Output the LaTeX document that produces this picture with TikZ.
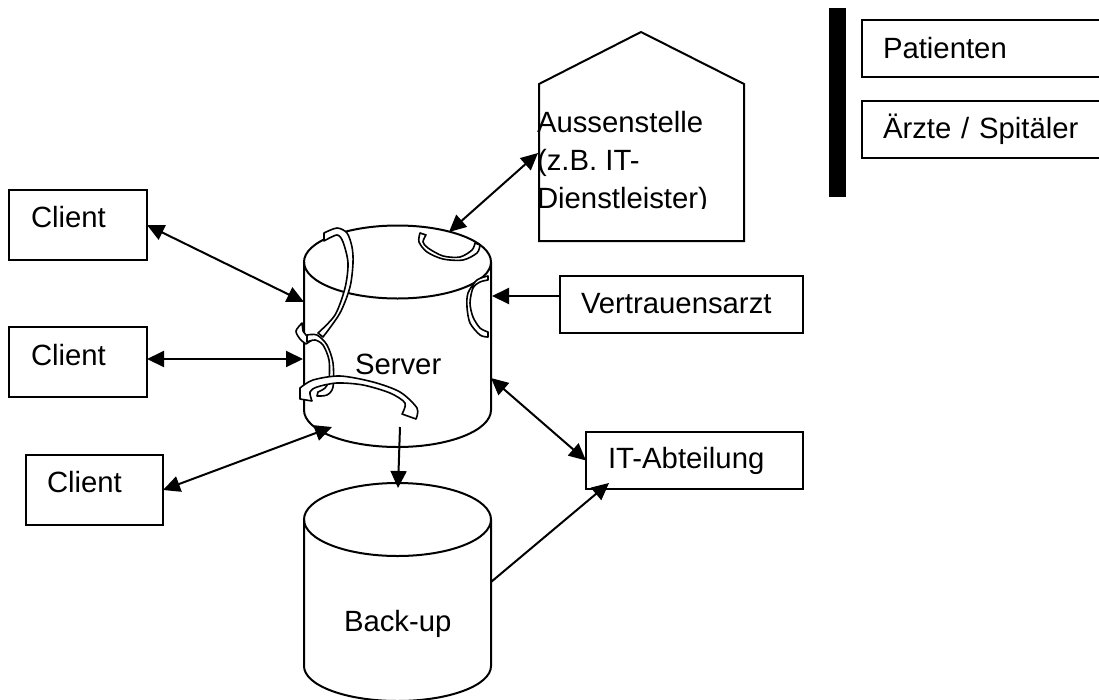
\documentclass[tikz,border=0pt]{standalone}
\usepackage{fontspec}
\setmainfont{Liberation Sans}
\usetikzlibrary{arrows.meta}
\tikzset{
  netbox/.style={draw,line width=2pt,anchor=north west,inner ysep=0pt,outer sep=0pt,align=left},
  lbl/.style={inner sep=0pt,outer sep=0pt,anchor=base west,align=left},
  link/.style={line width=2pt,{Triangle[length=17pt,width=16pt]}-{Triangle[length=17pt,width=16pt]}},
  onelink/.style={line width=2pt,-{Triangle[length=17pt,width=16pt]}},
  shell/.style={line width=2pt},
  ring/.style={draw,fill=white,line width=1.6pt,line join=round}
}
\begin{document}
\begin{tikzpicture}[x=1pt,y=-1pt,font=\fontsize{29.3}{38}\selectfont]
  \useasboundingbox (0,0) rectangle (1099,699);

  \fill[black] (829,8) rectangle (846,197);
  \node[netbox,inner xsep=21pt,text width=201pt,text height=38pt,text depth=19pt] (patienten) at (862,20) {Patienten};
  \node[netbox,inner xsep=21pt,text width=201pt,text height=37pt,text depth=20pt] (aerzte) at (862,101) {Ärzte / Spitäler};

  \node[netbox,inner xsep=22pt,text width=94pt,text height=37pt,text depth=33pt] (client1) at (9,190) {Client};
  \node[netbox,inner xsep=22pt,text width=94pt,text height=38pt,text depth=32pt] (client2) at (9,327) {Client};
  \node[netbox,inner xsep=21pt,text width=95pt,text height=37pt,text depth=33pt] (client3) at (26,455) {Client};
  \node[netbox,inner xsep=21pt,text width=201pt,text height=37pt,text depth=20pt] (vertrauen) at (560,276) {Vertrauensarzt};
  \node[netbox,inner xsep=22pt,text width=173pt,text height=36pt,text depth=21pt] (itabt) at (586,432) {IT-Abteilung};

  \draw[shell] (539,84) -- (641,32) -- (744,84) -- (744,241) -- (539,241) -- cycle;
  \begin{scope}
    \clip (520,90) rectangle (760,208);
    \node[lbl] (aussen) at (537,208) {Aussenstelle\\(z.B. IT-\\Dienstleister)};
  \end{scope}

  \draw[shell] (397.5,262) ellipse [x radius=93.5pt,y radius=36.5pt];
  \draw[shell] (304,262) -- (304,410) arc[start angle=180,end angle=360,x radius=93.5pt,y radius=37pt] -- (491,262);
  \draw[shell] (397.5,519.5) ellipse [x radius=93.5pt,y radius=36.5pt];
  \draw[shell] (304,519.5) -- (304,666) arc[start angle=180,end angle=360,x radius=93.5pt,y radius=35pt] -- (491,519.5);
  \node[lbl] (srv) at (355,374) {Server};
  \node[lbl] (bak) at (344,631) {Back-up};

  \draw[ring] plot[smooth] coordinates {(324,233) (337,228) (347,233) (352,247) (353,263) (350,287) (340,313) (323,337)}
    -- plot[smooth] coordinates {(318,333) (335,315) (345,288) (348,263) (343,242) (337,235) (324,241)} -- cycle;
  \draw[ring] plot[smooth] coordinates {(302,323) (296,331) (300,339) (306,344)}
    -- plot[smooth] coordinates {(312,340) (306,335) (303,331)} -- cycle;
  \draw[ring] plot[smooth] coordinates {(307,335) (317,335) (327,345) (333,363) (333,387) (327,395) (317,396)}
    -- plot[smooth] coordinates {(318,392) (325,388) (329,380) (329,360) (323,345) (315,340) (307,342)} -- cycle;
  \draw[ring] plot[smooth] coordinates {(300,388) (313,380) (340,376) (373,382) (400,392) (417,408) (416,419)}
    -- plot[smooth] coordinates {(402,414) (405,403) (390,393) (363,385) (337,383) (317,387) (310,392) (312,401)}
    -- (300,399) -- cycle;
  \draw[ring] plot[smooth] coordinates {(420,233) (419,242) (427,252) (443,259) (463,260) (477,253) (480,245)}
    -- plot[smooth] coordinates {(475,243) (472,250) (460,257) (443,256) (428,248) (423,242) (426,235)} -- cycle;
  \draw[ring] plot[smooth] coordinates {(488,276) (477,280) (468,293) (467,307) (470,323) (480,335) (488,337)}
    -- plot[smooth] coordinates {(488,332) (480,328) (473,317) (470,303) (473,288) (480,282) (488,280)} -- cycle;

  \coordinate (srvA) at (304,302);
  \coordinate (srvB) at (303,359);
  \coordinate (srvC) at (332,427);
  \coordinate (srvD) at (449,232);
  \coordinate (srvE) at (492,296);
  \coordinate (srvF) at (491,378);
  \coordinate (srvG) at (400,427);
  \coordinate (aussenW) at (538,153);
  \coordinate (bakTop) at (398,488);
  \coordinate (bakE) at (491,582);
  \coordinate (itabtS) at (609,483);

  \draw[link] (client1.east) -- (srvA);
  \draw[link] (client2.east |- srvB) -- (srvB);
  \draw[link] (client3.east) -- (srvC);
  \draw[link] (srvD) -- (aussenW);
  \draw[onelink] (vertrauen.west |- srvE) -- (srvE);
  \draw[link] (srvF) -- (itabt.west);
  \draw[onelink] (srvG) -- (bakTop);
  \draw[onelink] (bakE) -- (itabtS);
\end{tikzpicture}
\end{document}
